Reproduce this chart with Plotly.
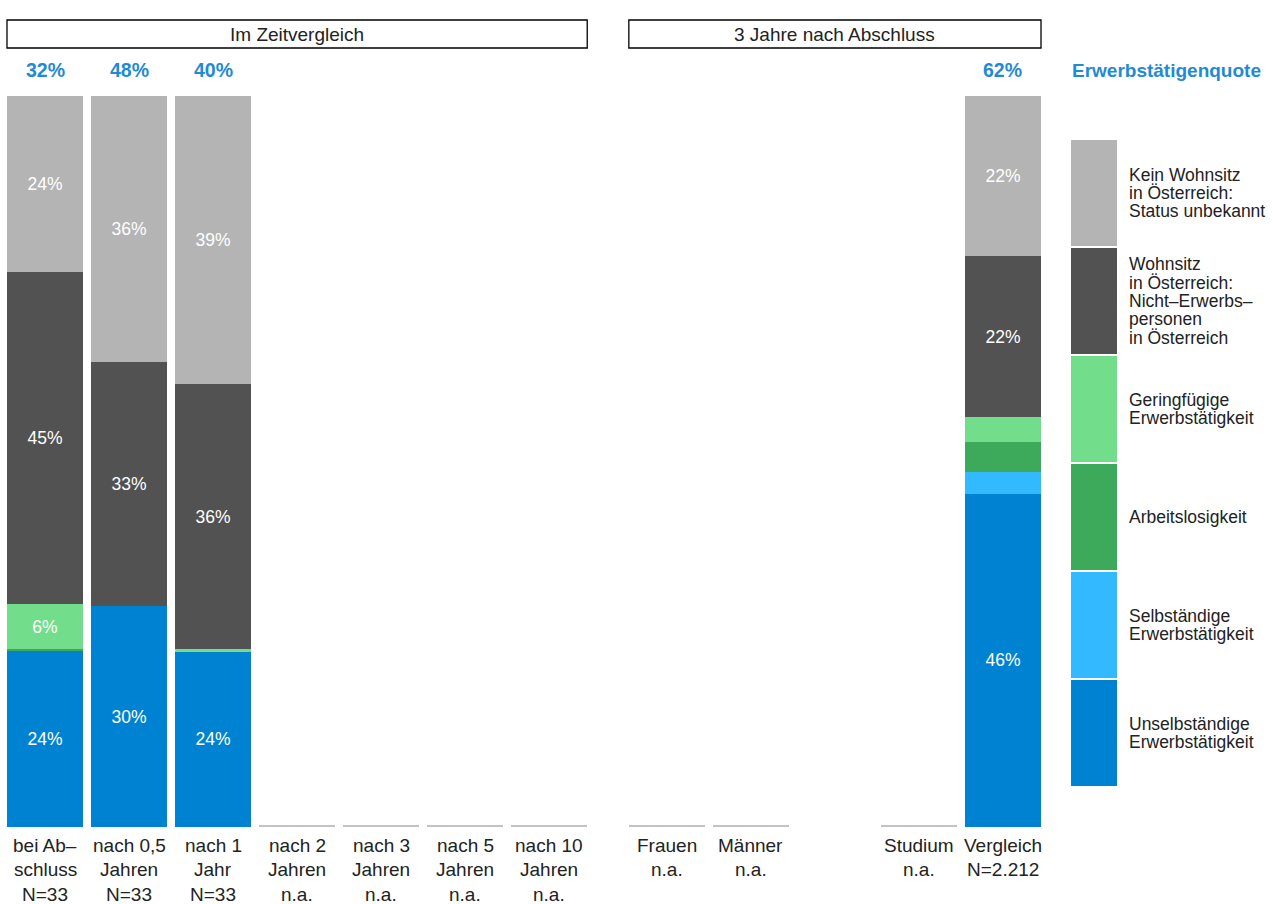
import plotly.graph_objects as go

# ---------------- data ----------------
categories = ["bei Ab–|schluss|N=33", "nach 0,5|Jahren|N=33", "nach 1|Jahr|N=33",
              "nach 2|Jahren|n.a.", "nach 3|Jahren|n.a.", "nach 5|Jahren|n.a.",
              "nach 10|Jahren|n.a.", "Frauen|n.a.", "Männer|n.a.", "Studium|n.a.",
              "Vergleich|N=2.212"]
unselbst = [24.1, 30.2, 24.0, None, None, None, None, None, None, None, 45.6]
selbst = [0.0, 0.0, 0.0, None, None, None, None, None, None, None, 2.9]
arbeitslos = [0.2, 0.0, 0.0, None, None, None, None, None, None, None, 4.2]
geringf = [6.2, 0.0, 0.3, None, None, None, None, None, None, None, 3.4]
nicht_erw = [45.4, 33.4, 36.3, None, None, None, None, None, None, None, 22.0]
kein_wohn = [24.1, 36.4, 39.4, None, None, None, None, None, None, None, 21.9]
quote = ["32%", "48%", "40%", "", "", "", "", "", "", "", "62%"]
na_flag = [None, None, None, 0.2, 0.2, 0.2, 0.2, 0.2, 0.2, 0.2, None]

series_names = ["Unselbständige|Erwerbstätigkeit", "Selbständige|Erwerbstätigkeit",
                "Arbeitslosigkeit", "Geringfügige|Erwerbstätigkeit",
                "Wohnsitz|in Österreich:|Nicht–Erwerbs–|personen|in Österreich",
                "Kein Wohnsitz|in Österreich:|Status unbekannt"]
series_values = [unselbst, selbst, arbeitslos, geringf, nicht_erw, kein_wohn]
series_colors = ["#0082d2", "#33b9ff", "#3caa5a", "#72de8c", "#525252", "#b4b4b4"]

# layout positions (slots) of categories
xpos = [0, 1, 2, 3, 4, 5, 6, 7.4, 8.4, 10.4, 11.4]
BW = 0.905

W, H = 1273, 904
ML, MR, MT, MB = 3, 228, 96, 77
PW, PH = W - ML - MR, H - MT - MB


def px_x(p):
    return (p - ML) / PW


def px_y(p):
    return 1 - (p - MT) / PH


FONT = "Liberation Sans, Arial, sans-serif"
TXT = "#222222"
BLUE = "#1f8ad6"

fig = go.Figure()
for name, vals, col in zip(series_names, series_values, series_colors):
    txt = [f"{round(v)}%" if (v is not None and v >= 5) else "" for v in vals]
    fig.add_trace(go.Bar(
        x=xpos, y=vals, width=BW, marker=dict(color=col, line=dict(width=0)),
        text=txt, textposition="inside", insidetextanchor="middle",
        textfont=dict(color="white", size=17.5, family=FONT),
        textangle=0, name=name.replace("|", " "), showlegend=False, hoverinfo="skip"))

fig.add_trace(go.Bar(x=xpos, y=na_flag, width=BW,
                     marker=dict(color="#c3c3c3", line=dict(width=0)),
                     showlegend=False, hoverinfo="skip"))

ann = []
shapes = []
# category labels (one annotation per line)
for xp, cat in zip(xpos, categories):
    for i, line in enumerate(cat.split("|")):
        ann.append(dict(x=xp, y=0, xref="x", yref="paper", text=line, showarrow=False,
                        yanchor="middle", yshift=-(18 + 24.5 * i),
                        font=dict(size=19, color=TXT, family=FONT)))
# quote labels
for xp, q in zip(xpos, quote):
    if q:
        ann.append(dict(x=xp, y=px_y(70), xref="x", yref="paper", text=f"<b>{q}</b>",
                        showarrow=False, yanchor="middle",
                        font=dict(size=19.5, color=BLUE, family=FONT)))
ann.append(dict(x=px_x(1070), y=px_y(70), xref="paper", yref="paper",
                text="<b>Erwerbstätigenquote</b>", showarrow=False, xanchor="left",
                yanchor="middle", font=dict(size=19, color=BLUE, family=FONT)))

# header boxes
groups = [("Im Zeitvergleich", xpos[0], xpos[6]), ("3 Jahre nach Abschluss", xpos[7], xpos[10])]
for title, a, b in groups:
    shapes.append(dict(type="rect", xref="x", yref="paper", x0=a - BW / 2, x1=b + BW / 2,
                       y0=px_y(48), y1=px_y(20), line=dict(color="black", width=1.3),
                       fillcolor="rgba(0,0,0,0)"))
    ann.append(dict(x=(a + b) / 2, y=px_y(34), xref="x", yref="paper", text=title,
                    showarrow=False, yanchor="middle",
                    font=dict(size=19, color=TXT, family=FONT)))

# custom legend (top to bottom)
top = 140
step = 108
LSP = 18.3
for k, (name, col) in enumerate(zip(series_names[::-1], series_colors[::-1])):
    y0 = top + k * step
    y1 = y0 + step - 2
    shapes.append(dict(type="rect", xref="paper", yref="paper", x0=px_x(1071), x1=px_x(1117),
                       y0=px_y(y1), y1=px_y(y0), line=dict(width=0), fillcolor=col))
    lines = name.split("|")
    mid = (y0 + y1) / 2
    for i, ln in enumerate(lines):
        yc = mid + (i - (len(lines) - 1) / 2) * LSP
        ann.append(dict(x=px_x(1127), y=px_y(yc), xref="paper", yref="paper",
                        text=ln, showarrow=False, xanchor="left", yanchor="middle",
                        font=dict(size=17.5, color=TXT, family=FONT)))

fig.update_layout(
    width=W, height=H, barmode="stack",
    margin=dict(l=ML, r=MR, t=MT, b=MB),
    paper_bgcolor="white", plot_bgcolor="white",
    xaxis=dict(range=[-0.5, 11.9], visible=False, fixedrange=True),
    yaxis=dict(range=[0, 100], visible=False, fixedrange=True),
    annotations=ann, shapes=shapes, showlegend=False,
    uniformtext=dict(mode="show", minsize=8),
)
fig.write_html("out.html", config={"displayModeBar": False},
               post_script="document.body.style.margin='0';document.body.style.overflow='hidden';")
